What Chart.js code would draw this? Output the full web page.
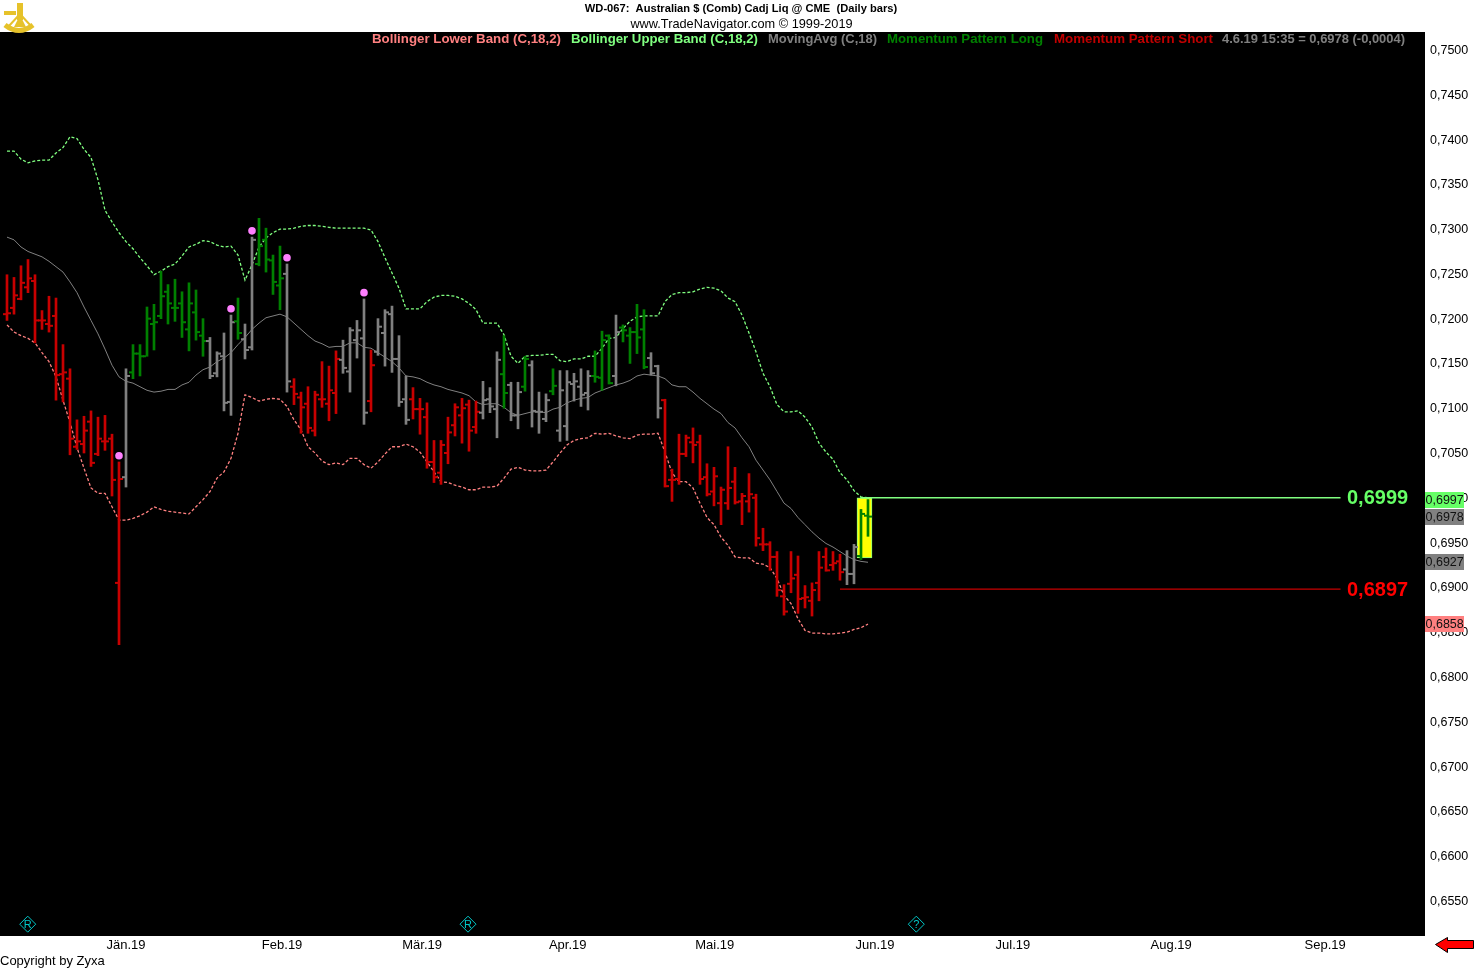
<!DOCTYPE html>
<html>
<head>
<meta charset="utf-8">
<title>WD-067 Australian $</title>
<script src="https://cdn.jsdelivr.net/npm/chart.js@4"></script>
<style>
  html, body { margin: 0; padding: 0; background: #fff; }
  canvas { display: block; }
</style>
</head>
<body>
<canvas id="chart" width="1483" height="969"></canvas>
<script>
  // Daily bars, one entry per trading day
  const highs = [
    0.7248,0.7245,0.7258,0.7265,0.7248,0.7208,0.7224,0.7222,0.7170,0.7143,
    0.7086,0.7090,0.7096,0.7089,0.7091,0.7070,0.7039,0.7143,0.7170,0.7170,
    0.7212,0.7215,0.7252,0.7237,0.7243,0.7229,0.7239,0.7231,0.7199,0.7178,
    0.7162,0.7183,0.7203,0.7222,0.7193,0.7290,0.7311,0.7300,0.7270,0.7280,
    0.7260,0.7132,0.7117,0.7123,0.7118,0.7151,0.7146,0.7163,0.7175,0.7189,
    0.7197,0.7221,0.7164,0.7199,0.7209,0.7213,0.7180,0.7135,0.7122,0.7110,
    0.7105,0.7063,0.7063,0.7089,0.7104,0.7110,0.7108,0.7107,0.7129,0.7122,
    0.7162,0.7180,0.7128,0.7128,0.7157,0.7152,0.7117,0.7115,0.7143,0.7141,
    0.7141,0.7138,0.7143,0.7141,0.7163,0.7185,0.7181,0.7203,0.7192,0.7189,
    0.7215,0.7209,0.7161,0.7147,0.7109,0.7031,0.7070,0.7069,0.7077,0.7069,
    0.7037,0.7033,0.7011,0.7056,0.7033,0.7004,0.7026,0.7003,0.6965,0.6950,
    0.6939,0.6902,0.6939,0.6934,0.6901,0.6904,0.6939,0.6943,0.6939,0.6936,
    0.6940,0.6947,0.6986,0.6997
  ];
  const lows = [
    0.7197,0.7204,0.7220,0.7228,0.7172,0.7187,0.7184,0.7108,0.7106,0.7047,
    0.7053,0.7049,0.7034,0.7046,0.7052,0.7001,0.6835,0.7011,0.7132,0.7135,
    0.7157,0.7164,0.7199,0.7193,0.7196,0.7178,0.7163,0.7175,0.7157,0.7132,
    0.7134,0.7096,0.7091,0.7176,0.7154,0.7164,0.7258,0.7251,0.7226,0.7209,
    0.7117,0.7103,0.7071,0.7071,0.7068,0.7100,0.7085,0.7093,0.7138,0.7117,
    0.7155,0.7081,0.7095,0.7158,0.7146,0.7139,0.7101,0.7081,0.7087,0.7070,
    0.7032,0.7016,0.7014,0.7037,0.7068,0.7060,0.7051,0.7071,0.7087,0.7094,
    0.7066,0.7099,0.7085,0.7076,0.7118,0.7078,0.7071,0.7084,0.7114,0.7062,
    0.7063,0.7107,0.7101,0.7097,0.7128,0.7119,0.7126,0.7124,0.7173,0.7149,
    0.7160,0.7143,0.7136,0.7088,0.7011,0.6995,0.7014,0.7045,0.7038,0.7014,
    0.7001,0.6990,0.6969,0.6986,0.6992,0.6969,0.6983,0.6945,0.6940,0.6918,
    0.6889,0.6868,0.6893,0.6870,0.6876,0.6867,0.6884,0.6917,0.6918,0.6907,
    0.6902,0.6903,0.6930,0.6956
  ];
  const opens = [
    0.7204,0.7211,0.7221,0.7234,0.7241,0.7197,0.7193,0.7202,0.7137,0.7132,
    0.7056,0.7059,0.7084,0.7048,0.7062,0.7065,0.6904,0.7022,0.7139,0.7160,
    0.7157,0.7193,0.7202,0.7229,0.7211,0.7216,0.7187,0.7206,0.7180,0.7174,
    0.7138,0.7157,0.7106,0.7196,0.7176,0.7167,0.7260,0.7287,0.7264,0.7236,
    0.7249,0.7123,0.7111,0.7104,0.7074,0.7109,0.7104,0.7116,0.7153,0.7140,
    0.7175,0.7177,0.7107,0.7162,0.7183,0.7204,0.7154,0.7109,0.7109,0.7098,
    0.7089,0.7039,0.7027,0.7049,0.7080,0.7091,0.7103,0.7078,0.7094,0.7109,
    0.7098,0.7137,0.7125,0.7091,0.7123,0.7147,0.7095,0.7087,0.7118,0.7074,
    0.7079,0.7126,0.7123,0.7116,0.7135,0.7133,0.7180,0.7135,0.7189,0.7180,
    0.7184,0.7187,0.7155,0.7146,0.7108,0.7019,0.7020,0.7048,0.7061,0.7061,
    0.7022,0.7006,0.6993,0.6993,0.7017,0.6995,0.6995,0.6999,0.6947,0.6947,
    0.6933,0.6889,0.6903,0.6913,0.6887,0.6884,0.6904,0.6933,0.6924,0.6928,
    0.6919,0.6914,0.6934,0.6979
  ];
  const closes = [
    0.7205,0.7225,0.7239,0.7244,0.7197,0.7197,0.7191,0.7136,0.7139,0.7065,
    0.7062,0.7074,0.7038,0.7065,0.7062,0.7019,0.7020,0.7135,0.7160,0.7157,
    0.7199,0.7195,0.7224,0.7216,0.7211,0.7195,0.7216,0.7184,0.7174,0.7135,
    0.7160,0.7105,0.7195,0.7183,0.7164,0.7287,0.7280,0.7265,0.7240,0.7244,
    0.7129,0.7115,0.7100,0.7077,0.7114,0.7109,0.7119,0.7154,0.7144,0.7186,
    0.7186,0.7094,0.7147,0.7190,0.7206,0.7154,0.7106,0.7086,0.7098,0.7098,
    0.7039,0.7022,0.7058,0.7072,0.7100,0.7099,0.7074,0.7095,0.7108,0.7101,
    0.7153,0.7116,0.7091,0.7117,0.7154,0.7096,0.7095,0.7108,0.7124,0.7119,
    0.7128,0.7129,0.7114,0.7135,0.7134,0.7175,0.7127,0.7184,0.7186,0.7184,
    0.7178,0.7145,0.7138,0.7099,0.7012,0.7019,0.7048,0.7066,0.7058,0.7020,
    0.7003,0.7023,0.7008,0.7010,0.6994,0.7001,0.7003,0.6954,0.6947,0.6933,
    0.6896,0.6872,0.6909,0.6886,0.6888,0.6896,0.6921,0.6918,0.6926,0.6916,
    0.6914,0.6944,0.6981,0.6978
  ];
  // R = momentum short, G = momentum long, N = neutral
  const trend = ("RRRRRRRRRRRRRRRRR" + "N" + "GGGGGGGGGGG" + "NNNN" + "G" + "NN" + "GGGG" + "N" +
    "RRRRRRR" + "NNNN" + "R" + "NNNNN" + "RRRRRRRRRR" + "NNN" + "G" + "NN" + "G" + "NNN" + "G" +
    "NNNNN" + "GGG" + "N" + "GGGG" + "NN" + "RRRRRRRRRRRRRRRRRRRRRRRRRR" + "NN" + "GG").split("");

  const upperBand = [
    0.7386,0.7386,0.7377,0.7373,0.7375,0.7376,0.7376,0.7384,0.7390,0.7402,
    0.7400,0.7388,0.7379,0.7354,0.7320,0.7307,0.7295,0.7285,0.7277,0.7267,
    0.7258,0.7248,0.7252,0.7257,0.7260,0.7269,0.7279,0.7282,0.7286,0.7285,
    0.7281,0.7279,0.7280,0.7270,0.7242,0.7259,0.7279,0.7289,0.7295,0.7299,
    0.7299,0.7300,0.7302,0.7303,0.7303,0.7302,0.7301,0.7300,0.7300,0.7300,
    0.7300,0.7300,0.7298,0.7285,0.7267,0.7250,0.7233,0.7210,0.7210,0.7210,
    0.7218,0.7223,0.7225,0.7225,0.7224,0.7221,0.7216,0.7209,0.7194,0.7194,
    0.7194,0.7181,0.7157,0.7149,0.7157,0.7158,0.7158,0.7159,0.7159,0.7152,
    0.7151,0.7154,0.7154,0.7157,0.7157,0.7166,0.7177,0.7178,0.7188,0.7196,
    0.7201,0.7202,0.7202,0.7202,0.7218,0.7226,0.7228,0.7228,0.7229,0.7232,
    0.7234,0.7233,0.7230,0.7222,0.7218,0.7203,0.7183,0.7162,0.7138,0.7123,
    0.7103,0.7095,0.7095,0.7096,0.7089,0.7078,0.7060,0.7050,0.7042,0.7027,
    0.7019,0.7007,0.7000,0.6999
  ];
  const movingAvg = [
    0.7290,0.7287,0.7279,0.7274,0.7271,0.7268,0.7263,0.7257,0.7251,0.7240,
    0.7228,0.7212,0.7197,0.7182,0.7165,0.7147,0.7134,0.7129,0.7127,0.7123,
    0.7119,0.7117,0.7118,0.7120,0.7120,0.7125,0.7128,0.7136,0.7142,0.7145,
    0.7151,0.7155,0.7161,0.7170,0.7178,0.7187,0.7194,0.7200,0.7202,0.7204,
    0.7201,0.7194,0.7187,0.7180,0.7174,0.7171,0.7167,0.7168,0.7168,0.7172,
    0.7172,0.7167,0.7166,0.7161,0.7156,0.7151,0.7144,0.7135,0.7134,0.7132,
    0.7128,0.7125,0.7123,0.7120,0.7118,0.7116,0.7113,0.7106,0.7103,0.7104,
    0.7104,0.7100,0.7094,0.7091,0.7093,0.7095,0.7095,0.7094,0.7098,0.7100,
    0.7105,0.7108,0.7110,0.7111,0.7116,0.7119,0.7122,0.7125,0.7127,0.7130,
    0.7135,0.7137,0.7136,0.7135,0.7132,0.7125,0.7123,0.7123,0.7117,0.7110,
    0.7104,0.7098,0.7093,0.7083,0.7077,0.7066,0.7056,0.7041,0.7030,0.7019,
    0.7006,0.6993,0.6987,0.6977,0.6969,0.6961,0.6954,0.6948,0.6944,0.6939,
    0.6934,0.6930,0.6928,0.6927
  ];
  const lowerBand = [
    0.7192,0.7184,0.7180,0.7177,0.7172,0.7161,0.7151,0.7134,0.7108,0.7083,
    0.7055,0.7032,0.7010,0.7004,0.7004,0.6989,0.6974,0.6974,0.6976,0.6979,
    0.6983,0.6989,0.6986,0.6984,0.6983,0.6982,0.6981,0.6989,0.6997,0.7006,
    0.7021,0.7028,0.7043,0.7071,0.7114,0.7111,0.7107,0.7109,0.7110,0.7109,
    0.7101,0.7086,0.7075,0.7056,0.7049,0.7040,0.7036,0.7038,0.7036,0.7043,
    0.7043,0.7036,0.7032,0.7039,0.7048,0.7056,0.7056,0.7059,0.7056,0.7050,
    0.7039,0.7028,0.7017,0.7016,0.7013,0.7011,0.7008,0.7008,0.7011,0.7011,
    0.7012,0.7021,0.7031,0.7033,0.7030,0.7029,0.7029,0.7030,0.7039,0.7049,
    0.7058,0.7063,0.7065,0.7066,0.7071,0.7070,0.7071,0.7068,0.7066,0.7065,
    0.7069,0.7070,0.7070,0.7071,0.7050,0.7027,0.7017,0.7017,0.7010,0.6993,
    0.6977,0.6969,0.6955,0.6946,0.6933,0.6932,0.6932,0.6926,0.6925,0.6921,
    0.6909,0.6890,0.6881,0.6864,0.6851,0.6848,0.6848,0.6847,0.6847,0.6848,
    0.6849,0.6852,0.6854,0.6858
  ];

  // Pink signal dots
  const signalDays = [16, 32, 35, 40, 51];
  const signalPrices = [0.7046, 0.7210, 0.7297, 0.7267, 0.7228];

  // Diamond event flags along the bottom
  const eventDays = [2.96, 65.86, 129.9];
  const eventLevels = [0.6523, 0.6523, 0.6523];
  const eventLetters = ["R", "R", "?"];

  // Yellow highlight box and the two level lines
  const boxDay = 122.5;
  const boxRange = [0.6932, 0.6999];
  const upperLevel = 0.6999;
  const upperLevelDays = [121.9, 190.5];
  const lowerLevel = 0.6897;
  const lowerLevelDays = [119, 190.5];

  // Axes
  const monthDays = [17, 39.3, 59.3, 80.1, 101.1, 124, 143.7, 166.3, 188.3];
  const monthLabels = ["Jän.19", "Feb.19", "Mär.19", "Apr.19", "Mai.19", "Jun.19", "Jul.19", "Aug.19", "Sep.19"];
  const priceTicks = [0.7500,0.7450,0.7400,0.7350,0.7300,0.7250,0.7200,0.7150,0.7100,0.7050,0.7000,
    0.6950,0.6900,0.6850,0.6800,0.6750,0.6700,0.6650,0.6600,0.6550];

  // Legend strip and the price tags on the right
  const legendNames = ["Bollinger Lower Band (C,18,2)", "Bollinger Upper Band (C,18,2)", "MovingAvg (C,18)",
    "Momentum Pattern Long", "Momentum Pattern Short", "4.6.19 15:35 = 0,6978 (-0,0004)"];
  const legendColors = ["#ff8080", "#80ff80", "#808080", "#008000", "#c00000", "#808080"];
  const legendLeft = [372, 571, 768, 887, 1054, 1222];
  const legendRight = [561, 758, 877, 1043, 1213, 1405];
  const tagValues = [0.6997, 0.6978, 0.6927, 0.6858];
  const tagColors = ["#66ff66", "#808080", "#808080", "#ff8080"];

  const RED = "#c80000", GREEN = "#008000", GRAY = "#808080";
  const trendColors = { R: RED, G: GREEN, N: GRAY };
  const barColors = trend.map(t => trendColors[t]);
  const commaPrice = v => v.toFixed(4).replace(".", ",");
  const tickShift = 2.5 / 7;   // open/close ticks sit just beside the 2px bar

  function bandDataset(values, color, dash, width) {
    return {
      type: "line",
      data: values.map((v, i) => ({ x: i, y: v })),
      borderColor: color,
      borderWidth: width,
      borderDash: dash,
      pointRadius: 0,
      tension: 0,
      order: 4
    };
  }

  function levelDataset(days, level, color) {
    return {
      type: "line",
      data: days.map(d => ({ x: d, y: level })),
      borderColor: color,
      borderWidth: 1.4,
      pointRadius: 0,
      order: 4
    };
  }

  function tickDataset(values, shift) {
    return {
      type: "scatter",
      data: values.map((v, i) => ({ x: i + shift, y: v })),
      pointStyle: "line",
      pointRadius: 1.5,
      pointBorderWidth: 2,
      pointBorderColor: barColors,
      order: 1
    };
  }

  // Everything that is not a data mark: page furniture, legend strip, tags
  const furniture = {
    id: "furniture",
    beforeDraw(chart) {
      const { ctx, chartArea: a } = chart;
      ctx.save();
      ctx.fillStyle = "#fff";
      ctx.fillRect(0, 0, chart.width, chart.height);
      ctx.fillStyle = "#000";
      ctx.fillRect(a.left, a.top, a.right - a.left, a.bottom - a.top);
      ctx.restore();
    },
    afterDraw(chart) {
      const { ctx, scales } = chart;
      ctx.save();
      ctx.textBaseline = "middle";

      ctx.fillStyle = "#000";
      ctx.textAlign = "center";
      ctx.font = "bold 11.15px 'Liberation Sans'";
      ctx.fillText("WD-067:  Australian $ (Comb) Cadj Liq @ CME  (Daily bars)", 741, 9);
      ctx.font = "12.75px 'Liberation Sans'";
      ctx.fillText("www.TradeNavigator.com © 1999-2019", 741.5, 24.5);

      ctx.textAlign = "left";
      ctx.font = "13px 'Liberation Sans'";
      ctx.fillText("Copyright by Zyxa", 0, 961.5);

      ctx.font = "bold 13.5px 'Liberation Sans'";
      legendNames.forEach((name, i) => {
        ctx.fillStyle = legendColors[i];
        ctx.fillText(name, legendLeft[i], 39, legendRight[i] - legendLeft[i]);
      });

      // big level values
      ctx.font = "bold 20px 'Liberation Sans'";
      ctx.fillStyle = "#66ff66";
      ctx.fillText(commaPrice(upperLevel), 1347, scales.y.getPixelForValue(upperLevel) + 1);
      ctx.fillStyle = "#ff0000";
      ctx.fillText(commaPrice(lowerLevel), 1347, scales.y.getPixelForValue(lowerLevel) + 1);

      // price tags
      ctx.font = "12.5px 'Liberation Sans'";
      tagValues.forEach((v, i) => {
        const y = Math.round(scales.y.getPixelForValue(v));
        ctx.fillStyle = tagColors[i];
        ctx.fillRect(1425, y - 8, 39, 16);
        ctx.fillStyle = "#111";
        ctx.fillText(commaPrice(v), 1425.5, y + 1);
      });

      // letters inside the diamonds
      ctx.font = "11px 'Liberation Sans'";
      ctx.textAlign = "center";
      ctx.fillStyle = "#00c8c8";
      eventLetters.forEach((c, i) => {
        ctx.fillText(c, scales.x.getPixelForValue(eventDays[i]), scales.y.getPixelForValue(eventLevels[i]) + 0.5);
      });

      // red arrow bottom right
      ctx.beginPath();
      ctx.moveTo(1435.5, 944.5);
      ctx.lineTo(1447.5, 937.5);
      ctx.lineTo(1447.5, 940.5);
      ctx.lineTo(1473.5, 940.5);
      ctx.lineTo(1473.5, 948.5);
      ctx.lineTo(1447.5, 948.5);
      ctx.lineTo(1447.5, 952.5);
      ctx.closePath();
      ctx.fillStyle = "#ff0000";
      ctx.fill();
      ctx.strokeStyle = "#000";
      ctx.lineWidth = 1;
      ctx.stroke();

      // sextant logo
      ctx.strokeStyle = "#e6c22a";
      ctx.fillStyle = "#e6c22a";
      ctx.fillRect(4, 11, 12, 4);
      ctx.fillRect(17, 3, 6, 17);
      ctx.beginPath();
      ctx.moveTo(20, 15); ctx.lineTo(26, 27); ctx.lineTo(14, 27);
      ctx.closePath();
      ctx.fill();
      ctx.lineWidth = 2;
      ctx.beginPath();
      ctx.moveTo(20, 14); ctx.lineTo(8, 27);
      ctx.moveTo(20, 14); ctx.lineTo(31, 26);
      ctx.stroke();
      ctx.lineWidth = 5;
      ctx.beginPath();
      ctx.moveTo(5, 25);
      ctx.quadraticCurveTo(19, 36, 33, 25);
      ctx.stroke();
      ctx.restore();
    }
  };

  const config = {
    type: "bar",
    data: {
      datasets: [
        {
          data: [{ x: boxDay, y: boxRange }],
          backgroundColor: "#ffff00",
          borderColor: "#80ff80",
          borderWidth: 1,
          borderSkipped: false,
          barThickness: 15,
          grouped: false,
          order: 6
        },
        levelDataset(upperLevelDays, upperLevel, "#80ff80"),
        levelDataset(lowerLevelDays, lowerLevel, "#c80000"),
        bandDataset(lowerBand, "#ff8080", [3, 2], 1.3),
        bandDataset(upperBand, "#80ff80", [3, 2], 1.3),
        bandDataset(movingAvg, "#808080", [], 1),
        {
          data: highs.map((h, i) => ({ x: i, y: [lows[i], h] })),
          backgroundColor: barColors,
          barThickness: 2,
          grouped: false,
          order: 2
        },
        tickDataset(opens, -tickShift),
        tickDataset(closes, tickShift),
        {
          type: "scatter",
          data: signalDays.map((d, i) => ({ x: d, y: signalPrices[i] })),
          pointStyle: "circle",
          pointRadius: 3.8,
          pointBorderWidth: 0,
          pointBackgroundColor: "#ff80ff",
          order: 0
        },
        {
          type: "scatter",
          data: eventDays.map((d, i) => ({ x: d, y: eventLevels[i] })),
          pointStyle: "rectRot",
          pointRadius: 8,
          pointBorderWidth: 1,
          pointBorderColor: "#00c8c8",
          pointBackgroundColor: "rgba(0,0,0,0)",
          order: 0
        }
      ]
    },
    options: {
      responsive: false,
      animation: false,
      devicePixelRatio: 1,
      layout: { autoPadding: false, padding: { top: 32, left: 0, right: 0, bottom: 0 } },
      plugins: { legend: { display: false }, tooltip: { enabled: false }, title: { display: false } },
      scales: {
        x: {
          type: "linear",
          offset: false,
          min: -1,
          max: 202.5714,
          grid: { display: false, drawTicks: false },
          border: { display: false },
          afterBuildTicks: scale => { scale.ticks = monthDays.map(d => ({ value: d })); },
          afterFit: scale => { scale.height = 33; },
          ticks: {
            autoSkip: false,
            maxRotation: 0,
            padding: 2,
            color: "#000",
            font: { family: "'Liberation Sans'", size: 13 },
            callback: (value, index) => monthLabels[index]
          }
        },
        y: {
          position: "right",
          min: 0.65098,
          max: 0.7519,
          grid: { display: false, drawTicks: false },
          border: { display: false },
          afterBuildTicks: scale => { scale.ticks = priceTicks.map(v => ({ value: v })); },
          afterFit: scale => { scale.width = 58; },
          ticks: {
            autoSkip: false,
            padding: 5,
            labelOffset: 1.5,
            color: "#000",
            font: { family: "'Liberation Sans'", size: 12.5 },
            callback: value => commaPrice(value)
          }
        }
      }
    },
    plugins: [furniture]
  };

  new Chart(document.getElementById("chart"), config);
</script>
</body>
</html>
